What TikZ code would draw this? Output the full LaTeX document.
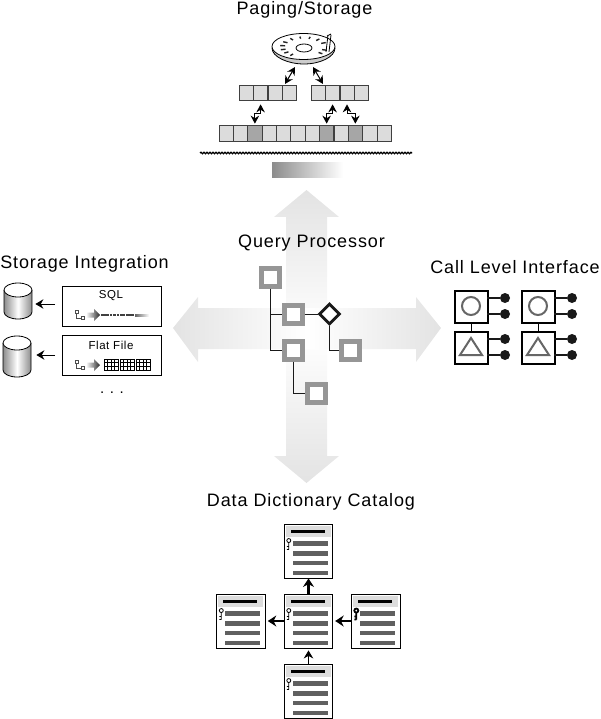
\documentclass[tikz,border=0pt]{standalone}
\usepackage{fontspec}
\setmainfont{Liberation Sans}
\newfontfamily\labfont[LetterSpace=5]{Liberation Sans}
\newfontfamily\smfont[LetterSpace=5]{Liberation Sans}
\usetikzlibrary{arrows.meta,decorations.pathmorphing,shapes.geometric,calc}
\definecolor{armc}{HTML}{E3E3E3}
\definecolor{cell}{HTML}{DCDCDC}
\definecolor{cellD}{HTML}{A6A6A6}
\definecolor{sq}{HTML}{969696}
\definecolor{barc}{HTML}{606060}
\tikzset{
 title/.style={font=\labfont\fontsize{18}{20}\selectfont,inner sep=0pt},
 small/.style={font=\smfont\fontsize{11.5}{13}\selectfont,inner sep=0pt},
 qsq/.style={draw=sq,line width=5pt,fill=white,minimum size=18pt,inner sep=0pt},
 qdia/.style={diamond,draw=black!90,line width=2.8pt,fill=white,minimum size=21pt,inner sep=0pt},
 qline/.style={draw=black!90,line width=1pt},
 dbl/.style={{Stealth[length=8pt,width=8.5pt]}-{Stealth[length=8pt,width=8.5pt]},line width=1pt},
 cellbox/.style={draw=black!75,line width=.7pt,fill=cell,minimum width=14.3pt,minimum height=15pt,inner sep=0pt},
 celld/.style={cellbox,fill=cellD},
 sbox/.style={draw=black,line width=.8pt,fill=white,minimum width=99pt,minimum height=40pt,inner sep=0pt},
 clibox/.style={draw=black,line width=2pt,fill=white,minimum width=33pt,minimum height=32pt,inner sep=0pt},
 ball/.style={circle,fill=black!90,minimum size=10pt,inner sep=0pt},
 stub/.style={line width=2pt,draw=black!90},
 card/.style={draw=black,line width=.9pt,fill=white,minimum width=48.5pt,minimum height=54pt,inner sep=0pt},
 cardarrow/.style={-{Stealth[length=8.5pt,width=11pt]},line width=2.4pt,draw=black},
 thinarrow/.style={-{Stealth[length=8pt,width=9.5pt]},line width=1pt,draw=black},
}
% card body: #1 = node name, #2 = key line width
\newcommand{\cardbody}[2]{%
 \fill[cell] ($(#1.north west)+(2,2)$) rectangle ($(#1.north west)+(47,13)$);
 \fill[black] ($(#1.north west)+(7,6.5)$) rectangle ($(#1.north west)+(41,9.5)$);
 \foreach \yy in {17.5,27.5,37,47}{\fill[barc] ($(#1.north west)+(9,\yy)$) rectangle ($(#1.north west)+(44,\yy+4.5)$);}
 \draw[line width=#2,draw=black] ($(#1.north west)+(5,17)$) circle (2pt) ($(#1.north west)+(5,19)$) -- ++(0,7) ($(#1.north west)+(5,23)$) -- ++(-2,0) ($(#1.north west)+(5,26)$) -- ++(-2,0);
}
% tree icon and arrow in the storage boxes
\newcommand{\storeicon}[2]{%
 \draw[line width=.5pt,draw=black!70] (75,#1-5) rectangle ++(3,3) (76,#1-2) -- (76,#1+3) -- (81,#1+3);
 \draw[line width=.5pt,draw=black!70] (81,#1+1.5) rectangle ++(3,3);
 \shade[left color=white,right color=black!85] (86,#1-2.5) -- (94,#1-2.5) -- (94,#1-6) -- (100,#1) -- (94,#1+6) -- (94,#1+2.5) -- (86,#1+2.5) -- cycle;
}
\begin{document}
\begin{tikzpicture}[x=1pt,y=-1pt]
\useasboundingbox (0,0) rectangle (600,719);
% central cross
\shade[top color=armc,bottom color=armc,middle color=white] (306.5,190) -- (339,217) -- (327,217) -- (327,456) -- (339,456) -- (306.5,483) -- (274,456) -- (286,456) -- (286,217) -- (274,217) -- cycle;
\shade[left color=armc,right color=armc,middle color=white] (173,328) -- (198,297) -- (198,308) -- (416,308) -- (416,297) -- (441,328) -- (416,362) -- (416,349) -- (198,349) -- (198,362) -- cycle;
% titles
\node[title] (tpage) at (304.5,10) {Paging/Storage};
\node[title] (tquery) at (311.5,243) {Query Processor};
\node[title] (tstore) at (84.5,264) {Storage Integration};
\node[title] (tcli) at (515,267) {Call Level Interface};
\node[title] (tdict) at (311,502) {Data Dictionary Catalog};
% disk
\draw[line width=.8pt,fill=black!20] (272,48) .. controls (272,57) and (288,64) .. (304,64) .. controls (320,64) and (335,57) .. (335,48) -- cycle;
\node[ellipse,draw=black,line width=.8pt,fill=white,minimum width=63pt,minimum height=26pt,inner sep=0pt] (disk) at (303.5,46.5) {};
\node[ellipse,draw=black,line width=.8pt,fill=white,minimum width=16pt,minimum height=8pt,inner sep=0pt] (hole) at (304,48) {};
\foreach \a in {25,50,75,100,125,150,172,195,215,235,320,342}{\draw[line width=1.4pt,draw=black!85] ($(304,47)+({\a}:19pt and 8.5pt)$) -- ($(304,47)+({\a}:24pt and 10.5pt)$);}
\draw[line width=.8pt] (328,35) -- (326,52) (331,35) -- (329,52) (327,36) -- (331,34);
% page rows
\foreach \i in {0,1,2,3}{
 \node[cellbox] (la\i) at ({246.2+14.4*\i},92.5) {};
 \node[cellbox] (ra\i) at ({318.2+14.4*\i},92.5) {};
}
\foreach \i in {0,...,11}{
 \ifnum\i=2 \def\st{celld}\else\ifnum\i=7 \def\st{celld}\else\ifnum\i=9 \def\st{celld}\else\def\st{cellbox}\fi\fi\fi
 \node[\st,minimum height=16pt] (pg\i) at ({226.2+14.35*\i},133) {};
}
\draw[dbl] (295,67) -- (285,84);
\draw[dbl] (313,67) -- (323,84);
\draw[dbl] ($(la1.south)+(0,4)$) -- ++(0,9) -| ($(pg2.north)+(0,-1)$);
\draw[dbl] ($(ra1.south)+(0,4)$) -- ++(0,9) -| ($(pg7.north)+(0,-1)$);
\draw[dbl] ($(ra2.south)+(0,4)$) -- ++(0,9) -| ($(pg9.north)+(0,-1)$);
% wavy
\coordinate (wa) at (200,153); \coordinate (wb) at (412,153);
\draw[line width=1.3pt,decorate,decoration={snake,amplitude=.7pt,segment length=3pt}] (wa) -- (wb);
\shade[left color=black!45,right color=white] (272,163) rectangle (343,178);
% query processor
\node[qsq] (q1) at (270,277) {};
\node[qsq] (q2) at (293,314) {};
\node[qsq] (q3) at (293,350) {};
\node[qsq] (q4) at (350,350) {};
\node[qsq] (q5) at (316,393) {};
\node[qdia] (qd) at (329.5,314) {};
\draw[qline] (q1.south) -- (270,350) -- (q3.west);
\draw[qline] (270,314) -- (q2.west);
\draw[qline] (q2.east) -- (qd.west);
\draw[qline] (qd.south) |- (q4.west);
\draw[qline] (q3.south) |- (q5.west);
% storage
\foreach \n/\xl/\yt/\yb in {c1/4/283/319,c2/3/336/377}{
 \shade[left color=black!45,right color=black!45,middle color=white] (\xl,\yt+7) -- (\xl,\yb-7) arc[start angle=180,end angle=0,x radius=14,y radius=7] -- (\xl+28,\yt+7) -- cycle;
 \draw[line width=.8pt] (\xl,\yt+7) -- (\xl,\yb-7) arc[start angle=180,end angle=0,x radius=14,y radius=7] -- (\xl+28,\yt+7);
 \node[ellipse,draw=black,line width=.8pt,fill=white,minimum width=28pt,minimum height=14pt,inner sep=0pt] (\n) at (\xl+14,\yt+7) {};
}
\node[sbox] (sql) at (111.5,306) {};
\node[sbox] (flat) at (111.5,355) {};
\node[small] (sqlt) at (111,296) {SQL};
\node[small] (flatt) at (111,345) {Flat File};
\draw[thinarrow] (55,304) -- ($(c1.east |- 0,304)+(3,0)$);
\draw[thinarrow] (55,355) -- ($(c2.east |- 0,355)+(5,0)$);
\storeicon{315}{}
\storeicon{365}{}
\draw[line width=2.5pt,dash pattern=on 8pt off 1pt on 2pt off 1pt on 3pt off 1pt on 2pt off 1pt on 5pt off 1pt,draw=black!75] (101,315) -- (135,315);
\shade[left color=black!60,right color=white] (135,314) rectangle (149,316.5);
\foreach \xx in {104,120,136}{
 \draw[line width=.7pt,draw=black,fill=white] (\xx,359) rectangle ++(14,11);
 \foreach \yy in {362.5,366}{\draw[line width=.6pt] (\xx,\yy) -- ++(14,0);}
 \foreach \dx in {3.5,7,10.5}{\draw[line width=.6pt] (\xx+\dx,359) -- ++(0,11);}
}
\node[font=\fontsize{15}{15}\selectfont,inner sep=0pt] (dots) at (112,393) {. . .};
% call level interface
\foreach \p/\xx in {a/454,b/521}{
 \node[clibox,anchor=north west] (c\p) at (\xx,290) {};
 \node[clibox,anchor=north west] (t\p) at (\xx,331) {};
 \draw[line width=.8pt] (c\p.south) -- (t\p.north);
 \draw[line width=2pt,draw=black!60] (\xx+17,306) circle (9pt);
 \draw[line width=2pt,draw=black!60,line join=miter] (\xx+17,338) -- (\xx+28,355) -- (\xx+6,355) -- cycle;
 \foreach \yy/\nm in {298/1,314/2,339/3,355/4}{
  \node[ball] (b\p\nm) at (\xx+51,\yy) {};
  \draw[stub] (\xx+33,\yy) -- (b\p\nm);
 }
}
% dictionary
\node[card] (dt) at (308.5,551) {};
\node[card] (dc) at (308.5,621) {};
\node[card] (db) at (308.5,691) {};
\node[card] (dl) at (241,621) {};
\node[card] (dr) at (376,621) {};
\cardbody{dt}{.8pt}
\cardbody{dc}{.8pt}
\cardbody{db}{.8pt}
\cardbody{dl}{.8pt}
\cardbody{dr}{1.8pt}
\draw[cardarrow] (dc.north) -- (dt.south);
\draw[cardarrow] (dc.west) -- ++(-16,0);
\draw[cardarrow] (dr.west) -- ($(dc.east)+(2,0)$);
\draw[thinarrow] (db.north) -- ($(dc.south)+(0,2)$);
\end{tikzpicture}
\end{document}
